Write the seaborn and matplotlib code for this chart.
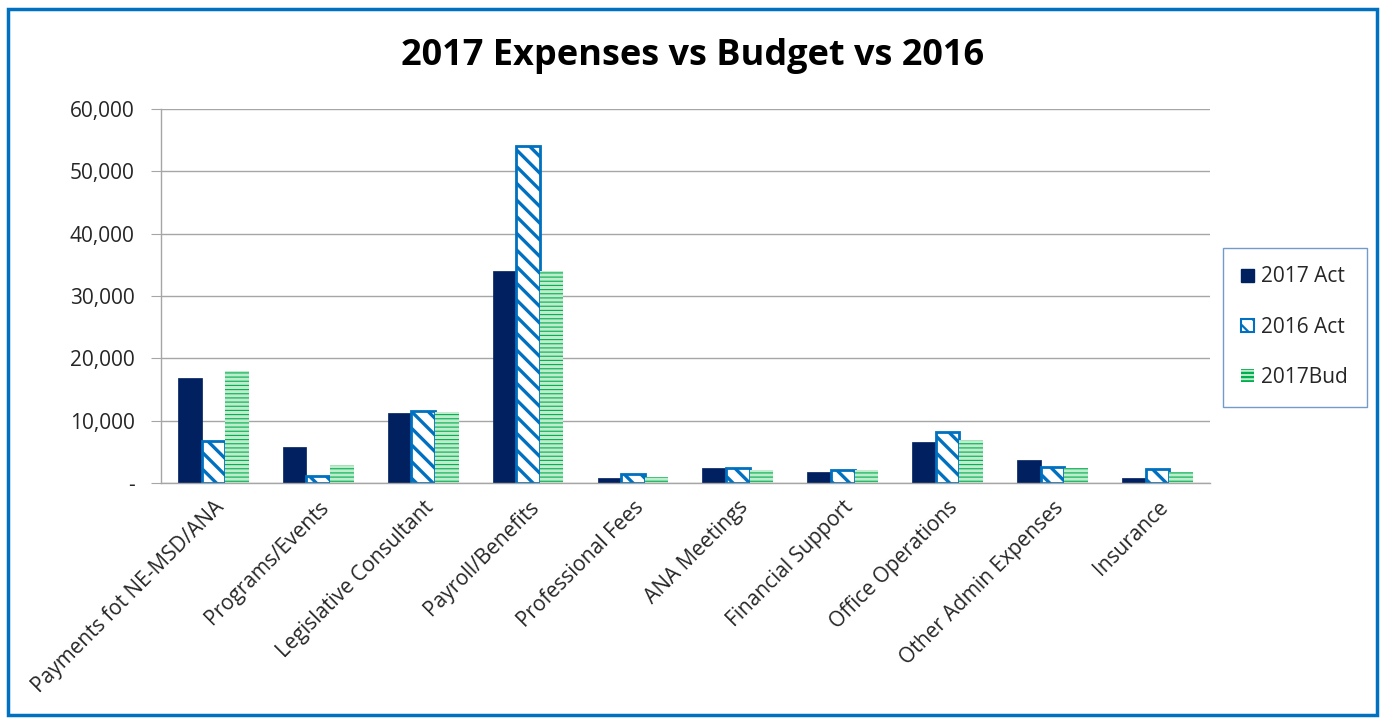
import matplotlib
matplotlib.use("Agg")
import matplotlib.pyplot as plt
import matplotlib.patches as mpatches
import numpy as np
import pandas as pd
import seaborn as sns

# Data
categories = ['Payments fot NE-MSD/ANA', 'Programs/Events', 'Legislative Consultant',
              'Payroll/Benefits', 'Professional Fees', 'ANA Meetings', 'Financial Support',
              'Office Operations', 'Other Admin Expenses', 'Insurance']
act_2017 = [16800, 5730, 11280, 34000, 800, 2450, 1760, 6530, 3740, 800]
act_2016 = [6740, 1170, 11500, 54100, 1500, 2450, 2080, 8230, 2620, 2250]
bud_2017 = [17970, 2890, 11340, 34000, 1000, 2130, 2080, 6900, 2450, 1760]
series = ['2017 Act', '2016 Act', '2017Bud']

df = pd.DataFrame({'category': categories * 3,
                   'series': [s for s in series for _ in categories],
                   'value': act_2017 + act_2016 + bud_2017})

sns.set_style("white")
plt.rcParams['font.family'] = ['Open Sans', 'DejaVu Sans']
plt.rcParams['hatch.linewidth'] = 1.6

fig = plt.figure(figsize=(13.85, 7.19), dpi=100)
ax = fig.add_axes([0.1162, 0.3282, 0.7574, 0.5202])

navy = '#002060'
blue = '#0070C0'
green = '#00B050'
light_green = '#bfeccc'
palette = {'2017 Act': navy, '2016 Act': 'white', '2017Bud': light_green}

sns.barplot(data=df, x='category', y='value', hue='series', order=categories,
            hue_order=series, palette=palette, width=0.675, gap=0, ax=ax,
            legend=False, saturation=1)


def hatch_lw(p, lw):
    if hasattr(p, 'set_hatch_linewidth'):
        p.set_hatch_linewidth(lw)


for cont, s in zip(ax.containers, series):
    for p in cont.patches:
        if s == '2017 Act':
            p.set_edgecolor(navy)
            p.set_linewidth(0.5)
        elif s == '2016 Act':
            p.set_edgecolor(blue)
            p.set_hatch('\\\\')
            p.set_linewidth(2)
            hatch_lw(p, 2.4)
        else:
            p.set_edgecolor(green)
            p.set_hatch('----')
            p.set_linewidth(0)
            hatch_lw(p, 0.8)

ax.set_ylim(0, 60000)
ax.set_xlim(-0.5, len(categories) - 0.5)
ax.set_yticks(np.arange(0, 60001, 10000))
ax.set_yticklabels(['-'] + [f'{v:,}' for v in range(10000, 60001, 10000)], fontsize=15)
ax.set_xticks(range(len(categories)))
ax.set_xticklabels(categories, rotation=45, ha='right', rotation_mode='anchor', fontsize=15)
ax.set_xticks(np.arange(-0.5, len(categories), 1), minor=True)
ax.tick_params(axis='x', which='major', length=0, pad=10)
ax.tick_params(axis='x', which='minor', length=6, color='#A6A6A6', direction='out')
ax.tick_params(axis='y', length=7, color='#A6A6A6', direction='out', pad=12, left=True)
ax.yaxis.grid(True, color='#A6A6A6', linewidth=1)
ax.set_axisbelow(True)
for side in ['top', 'right']:
    ax.spines[side].set_visible(False)
for side in ['left', 'bottom']:
    ax.spines[side].set_color('#A6A6A6')
    ax.spines[side].set_linewidth(1)
ax.set_xlabel('')
ax.set_ylabel('')

fig.text(0.5, 0.922, '2017 Expenses vs Budget vs 2016', ha='center', va='center',
         fontsize=26, fontweight='bold', color='black')

handles = [mpatches.Patch(facecolor=navy, edgecolor=navy),
           mpatches.Patch(facecolor='white', edgecolor=blue, hatch='\\\\', linewidth=1.5),
           mpatches.Patch(facecolor=light_green, edgecolor=green, hatch='----', linewidth=0)]
leg = fig.legend(handles, series, loc='center', bbox_to_anchor=(0.9347, 0.545),
                 fontsize=15, frameon=True, fancybox=False, labelspacing=1.4,
                 handlelength=0.6, handleheight=0.6, handletextpad=0.35,
                 borderpad=0.9, borderaxespad=0)
leg.get_frame().set_edgecolor('#4F81BD')
leg.get_frame().set_linewidth(1)

border = mpatches.Rectangle((0.006, 0.006), 0.988, 0.982, transform=fig.transFigure,
                            fill=False, edgecolor=blue, linewidth=2.5)
fig.patches.append(border)

fig.savefig('out.png', dpi=100)
